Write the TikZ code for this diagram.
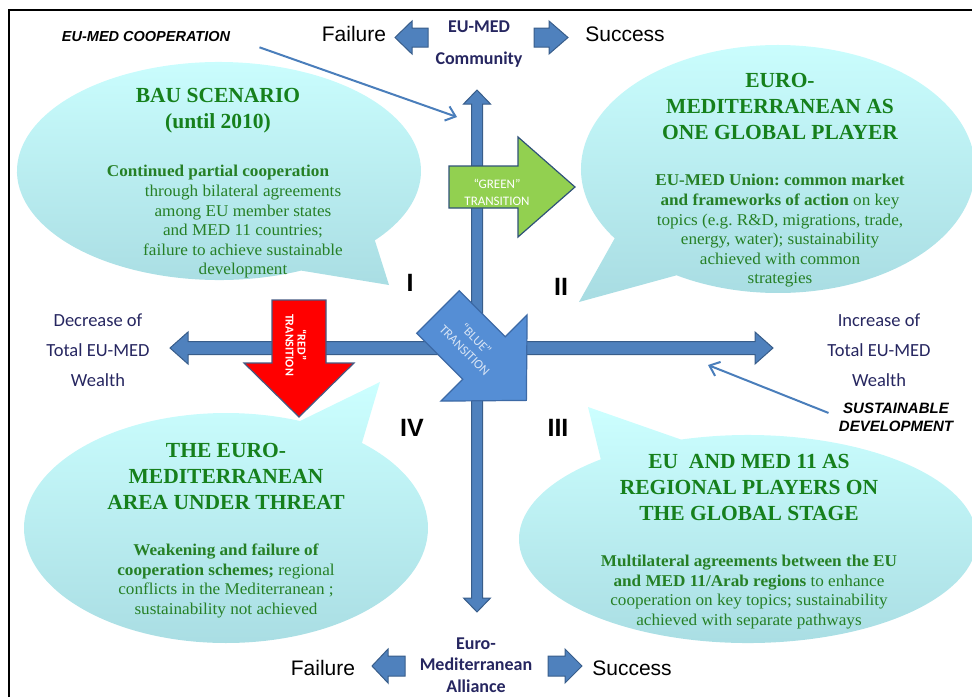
\documentclass[tikz,border=0pt]{standalone}
\usepackage{fontspec}
\setmainfont{Liberation Serif}
\newfontfamily\titlefont{Liberation Serif}
\newfontfamily\bodyfont[FakeStretch=1.04]{Liberation Serif}
\newfontfamily\calib{Carlito}
\newfontfamily\arialf{Liberation Sans}
\usetikzlibrary{arrows.meta}
\frenchspacing

\definecolor{axisblue}{RGB}{79,129,189}
\definecolor{axisedge}{RGB}{56,93,138}
\definecolor{greenfill}{RGB}{146,208,80}
\definecolor{greenedge}{RGB}{47,82,120}
\definecolor{redfill}{RGB}{255,0,0}
\definecolor{rededge}{RGB}{70,90,130}
\definecolor{bluefill}{RGB}{85,142,213}
\definecolor{blueedge}{RGB}{60,105,165}
\definecolor{bluetext}{RGB}{215,228,245}
\definecolor{bubtop}{RGB}{204,255,255}
\definecolor{bubbot}{RGB}{168,220,226}
\definecolor{titlegreen}{RGB}{22,128,28}
\definecolor{bodygreen}{RGB}{38,128,38}
\definecolor{navy}{RGB}{38,38,96}
\definecolor{pointer}{RGB}{74,126,187}

\begin{document}
\begin{tikzpicture}[x=1pt,y=-1pt,
  bubble/.style={top color=bubtop, bottom color=bubbot},
  axisarrow/.style={fill=axisblue, draw=axisedge, line width=1pt, line join=miter},
  title/.style={font=\titlefont\bfseries\fontsize{21.5}{26}\selectfont, text=titlegreen, align=center, inner sep=0pt},
  bodytxt/.style={font=\bodyfont\fontsize{16.5}{19.6}\selectfont, text=bodygreen, align=center, inner sep=0pt},
  axislabel/.style={font=\calib\fontsize{18.5}{30}\selectfont, text=navy, align=center, inner sep=0pt},
  polelabel/.style={font=\calib\bfseries\fontsize{18}{32}\selectfont, text=navy, align=center, inner sep=0pt},
  outcome/.style={font=\arialf\fontsize{21}{24}\selectfont, text=black, inner sep=0pt},
  quadrant/.style={font=\arialf\bfseries\fontsize{25}{28}\selectfont, text=black, inner sep=0pt},
  keyword/.style={font=\arialf\bfseries\itshape\fontsize{15}{18}\selectfont, text=black, align=center, inner sep=0pt},
  transtext/.style={font=\calib\fontsize{13}{17}\selectfont, text=white, align=center, inner sep=0pt},
  pointerline/.style={draw=pointer, line width=2pt, -{Straight Barb[length=9pt,width=15pt]}}
]
\useasboundingbox (0,0) rectangle (972,697);

% outer frame
\draw[line width=1.6pt] (9,697) -- (9,10) -- (972,10);

% speech bubbles (ellipse with a pointed tail)
\begin{scope}[shift={(219,171)}]
  \shade[bubble] (66:202 and 109) arc[start angle=66, end angle=399.5, x radius=202, y radius=109] -- (170,114) -- cycle;
\end{scope}
\begin{scope}[shift={(778,169)}]
  \shade[bubble] (146:197 and 124) arc[start angle=146, end angle=481, x radius=197, y radius=124] -- (-199,133) -- cycle;
\end{scope}
\begin{scope}[shift={(748,539)}]
  \shade[bubble] (253:229 and 104) arc[start angle=253, end angle=590, x radius=229, y radius=104] -- (-160,-132) -- cycle;
\end{scope}
\begin{scope}[shift={(226,528)}]
  \shade[bubble] (312.3:202 and 115) arc[start angle=312.3, end angle=651.5, x radius=202, y radius=115] -- (154,-146) -- cycle;
\end{scope}

% main axes
\path[axisarrow] (477,90) -- (490.5,104) -- (482.5,104) -- (482.5,598) -- (490.5,598) -- (477,612)
  -- (463.5,598) -- (471.5,598) -- (471.5,104) -- (463.5,104) -- cycle;
\path[axisarrow] (170,348) -- (188,332) -- (188,341.5) -- (755,341.5) -- (755,332) -- (773,348)
  -- (755,364) -- (755,354.5) -- (188,354.5) -- (188,364) -- cycle;

% small direction arrows at the poles
\path[axisarrow] (395,37.5) -- (412,21) -- (412,28) -- (428,28) -- (428,47) -- (412,47) -- (412,54) -- cycle;
\path[axisarrow] (568,37.5) -- (549,21) -- (549,28) -- (534,28) -- (534,47) -- (549,47) -- (549,54) -- cycle;
\path[axisarrow] (372,666) -- (388,649) -- (388,656) -- (405,656) -- (405,676) -- (388,676) -- (388,683) -- cycle;
\path[axisarrow] (582,666) -- (565,649) -- (565,656) -- (548,656) -- (548,676) -- (565,676) -- (565,683) -- cycle;

% transition arrows
\path[fill=greenfill, draw=greenedge, line width=1.2pt] (449,166) -- (518,166) -- (518,137) -- (575,187)
  -- (518,237) -- (518,208) -- (449,208) -- cycle;
\path[fill=redfill, draw=rededge, line width=1.2pt] (272,300) -- (326,300) -- (326,363) -- (354,363)
  -- (299,417) -- (244,363) -- (272,363) -- cycle;
\begin{scope}[shift={(438,312)}, rotate=-45]
  \path[fill=bluefill, draw=blueedge, line width=1.2pt] (0,-30) -- (65,-30) -- (65,-61) -- (125,0)
    -- (65,61) -- (65,30) -- (0,30) -- cycle;
  \node[transtext, font=\calib\fontsize{13}{16}\selectfont, text=bluetext, rotate=-45] (bluet) at (46,0) {“BLUE”\\TRANSITION};
\end{scope}
\node[transtext] (greent) at (497,192) {“GREEN”\\TRANSITION};
\node[transtext, font=\calib\bfseries\fontsize{12}{12}\selectfont, rotate=-90] (redt) at (296,345) {“RED”\\TRANSITION};

% bubble texts
\node[title] (t1) at (218,111) {BAU SCENARIO\\(until 2010)};
\node[bodytxt] (d1) at (243,222) {\hspace*{-50pt}\textbf{Continued partial cooperation}\\through bilateral agreements\\among EU member states\\and MED 11 countries;\\failure to achieve sustainable\\development};
\node[title] (t2) at (780,106) {EURO-\\MEDITERRANEAN AS\\ONE GLOBAL PLAYER};
\node[bodytxt] (d2) at (780,231) {\textbf{EU-MED Union: common market}\\\textbf{and frameworks of action} on key\\topics (e.g. R\&D, migrations, trade,\\energy, water); sustainability\\achieved with common\\strategies};
\node[title] (t3) at (749,487) {EU\ \ AND MED 11 AS\\REGIONAL PLAYERS ON\\THE GLOBAL STAGE};
\node[bodytxt] (d3) at (749,592) {\textbf{Multilateral agreements between the EU}\\\textbf{and MED 11/Arab regions} to enhance\\cooperation on key topics; sustainability\\achieved with separate pathways};
\node[title] (t4) at (226,476) {THE EURO-\\MEDITERRANEAN\\AREA UNDER THREAT};
\node[bodytxt] (d4) at (226,581) {\textbf{Weakening and failure of}\\\textbf{cooperation schemes;} regional\\conflicts in the Mediterranean ;\\sustainability not achieved};

% axis labels
\node[axislabel] (dec) at (98,350) {Decrease of\\Total EU-MED\\Wealth};
\node[axislabel] (inc) at (879,350) {Increase of\\Total EU-MED\\Wealth};
\node[polelabel] (community) at (479,44) {EU-MED\\Community};
\node[polelabel, font=\calib\bfseries\fontsize{18}{21.5}\selectfont] (alliance) at (476,665) {Euro-\\Mediterranean\\Alliance};
\node[outcome] (fail1) at (354,34) {Failure};
\node[outcome] (succ1) at (625,34) {Success};
\node[outcome] (fail2) at (323,668) {Failure};
\node[outcome] (succ2) at (632,668) {Success};

% quadrant numbers
\node[quadrant] (q1) at (410,283) {I};
\node[quadrant] (q2) at (561,287) {II};
\node[quadrant] (q3) at (558,428) {III};
\node[quadrant] (q4) at (412,428) {IV};

% keywords with pointers
\node[keyword, font=\arialf\bfseries\itshape\fontsize{14.5}{18}\selectfont] (coop) at (146,37) {EU-MED COOPERATION};
\coordinate (coopend) at (457,117);
\draw[pointerline, shorten <=31pt] (coop.east) -- (coopend);
\node[keyword] (sust) at (896,417) {SUSTAINABLE\\DEVELOPMENT};
\coordinate (sustend) at (708,365);
\draw[pointerline, shorten <=11pt] (sust.west) -- (sustend);
\end{tikzpicture}
\end{document}
